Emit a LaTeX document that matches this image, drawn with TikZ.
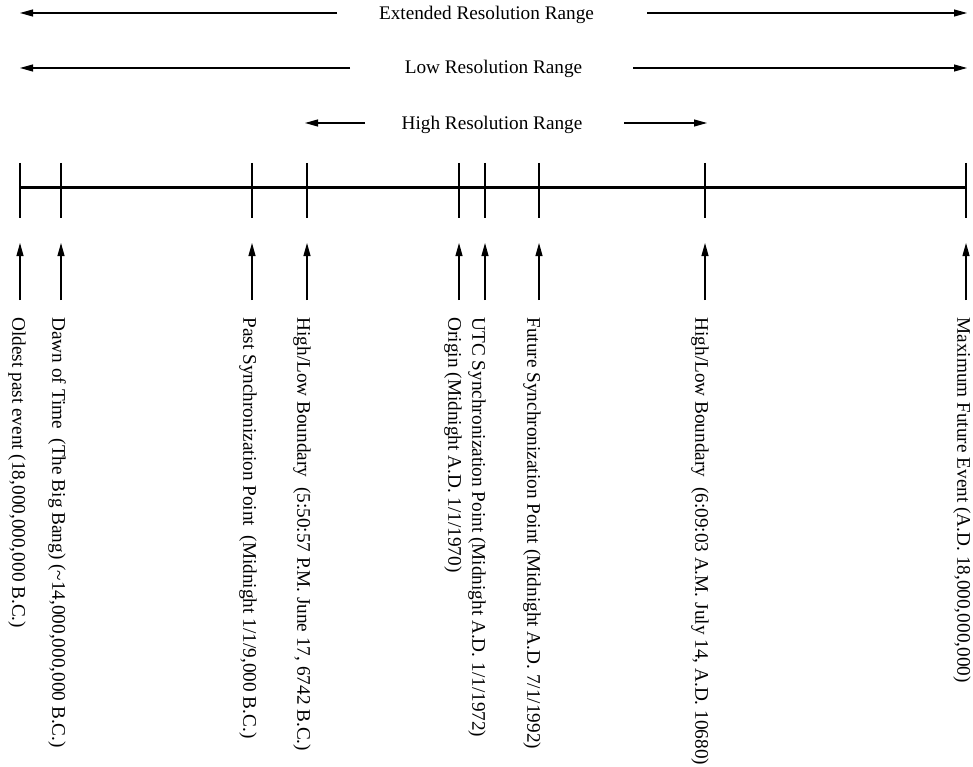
\documentclass[tikz,border=0pt]{standalone}
\usepackage{fontspec}
\setmainfont{Liberation Serif}
\usetikzlibrary{arrows.meta}
\begin{document}
\begin{tikzpicture}[x=1pt,y=-1pt,>={Triangle[length=13pt,width=7pt]},line width=1.1pt,
    rng/.style={anchor=base,inner sep=0pt,font=\fontsize{19.25}{23}\selectfont},
    lbl/.style={rotate=-90,anchor=west,inner sep=0pt,font=\fontsize{19.25}{23}\selectfont}]
  \useasboundingbox (0,0) rectangle (973,767);

  % ranges
  \node[rng] (ext) at (486.5,19.3) {Extended Resolution Range};
  \node[rng] (low) at (493.5,74) {Low Resolution Range};
  \node[rng] (high) at (492,130) {High Resolution Range};

  \coordinate (extL) at (20,13);   \coordinate (extA) at (337,13);
  \coordinate (extB) at (647,13);  \coordinate (extR) at (967,13);
  \coordinate (lowL) at (20,68);   \coordinate (lowA) at (350,68);
  \coordinate (lowB) at (633,68);  \coordinate (lowR) at (967,68);
  \coordinate (highL) at (305,123); \coordinate (highA) at (365,123);
  \coordinate (highB) at (624,123); \coordinate (highR) at (707,123);

  \draw[->] (extA) -- (extL);
  \draw[->] (extB) -- (extR);
  \draw[->] (lowA) -- (lowL);
  \draw[->] (lowB) -- (lowR);
  \draw[->] (highA) -- (highL);
  \draw[->] (highB) -- (highR);

  % time line
  \foreach \n/\x in {old/20,dawn/61,past/252,hla/307,origin/459,utc/485,future/539,hlb/705,max/966} {
    \coordinate (\n) at (\x,188);
    \coordinate (\n-foot) at (\x,300);
    \coordinate (\n-tip) at (\x,243);
    \draw (\x,163) -- (\x,218);
    \draw[->] (\n-foot) -- (\n-tip);
  }
  \draw[line width=3pt] (old) -- (max);

  % events
  \node[lbl] (old-lbl) at (17,317) {Oldest past event (18,000,000,000 B.C.)};
  \node[lbl] (dawn-lbl) at (57,317) {Dawn of Time\ \ (The Big Bang) (\textasciitilde14,000,000,000 B.C.)};
  \node[lbl] (past-lbl) at (248,317) {Past Synchronization Point\ \ (Midnight 1/1/9,000 B.C.)};
  \node[lbl] (hla-lbl) at (302,317) {High/Low Boundary\ \ (5:50:57 P.M. June 17, 6742 B.C.)};
  \node[lbl] (origin-lbl) at (453,317) {Origin (Midnight A.D. 1/1/1970)};
  \node[lbl] (utc-lbl) at (477,317) {UTC Synchronization Point (Midnight A.D. 1/1/1972)};
  \node[lbl] (future-lbl) at (532,317) {Future Synchronization Point (Midnight A.D. 7/1/1992)};
  \node[lbl] (hlb-lbl) at (700,317) {High/Low Boundary\ \ (6:09:03 A.M. July 14, A.D. 10680)};
  \node[lbl] (max-lbl) at (962,317) {Maximum Future Event (A.D. 18,000,000,000)};
\end{tikzpicture}
\end{document}
